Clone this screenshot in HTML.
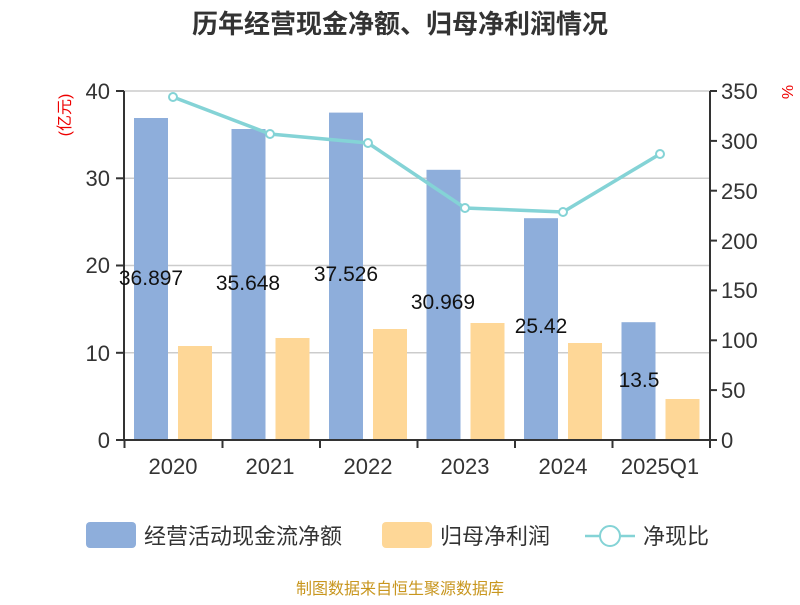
<!DOCTYPE html>
<html><head><meta charset="utf-8"><style>body{margin:0;background:#fff}</style></head><body>
<svg width="800" height="600" xmlns="http://www.w3.org/2000/svg" font-family="'Liberation Sans','Noto Sans CJK SC',sans-serif">
<text x="400" y="33" text-anchor="middle" font-size="26" font-weight="bold" fill="#333">历年经营现金净额、归母净利润情况</text>
<g stroke="#ccc" stroke-width="1.5">
<line x1="124" y1="91" x2="710" y2="91"/><line x1="124" y1="178.3" x2="710" y2="178.3"/><line x1="124" y1="265.5" x2="710" y2="265.5"/><line x1="124" y1="352.8" x2="710" y2="352.8"/>
</g>
<g fill="#8eaedb">
<rect x="134" y="118" width="34" height="322"/><rect x="231.5" y="129" width="34" height="311"/><rect x="329" y="112.6" width="34" height="327.4"/><rect x="426.5" y="169.8" width="34" height="270.2"/><rect x="524" y="218.2" width="34" height="221.8"/><rect x="621.5" y="322.2" width="34" height="117.8"/>
</g>
<g fill="#fed797">
<rect x="178" y="346" width="34" height="94"/><rect x="275.5" y="338" width="34" height="102"/><rect x="373" y="329" width="34" height="111"/><rect x="470.5" y="323" width="34" height="117"/><rect x="568" y="343" width="34" height="97"/><rect x="665.5" y="399" width="34" height="41"/>
</g>
<g stroke="#333" stroke-width="2" fill="none">
<line x1="124" y1="91" x2="124" y2="441"/><line x1="124" y1="440" x2="710" y2="440"/><line x1="710" y1="91" x2="710" y2="441"/>
<line x1="116" y1="91" x2="124" y2="91"/><line x1="116" y1="178.3" x2="124" y2="178.3"/><line x1="116" y1="265.5" x2="124" y2="265.5"/><line x1="116" y1="352.8" x2="124" y2="352.8"/><line x1="116" y1="440" x2="124" y2="440"/>
<line x1="124.5" y1="440" x2="124.5" y2="448"/><line x1="222.5" y1="440" x2="222.5" y2="448"/><line x1="320" y1="440" x2="320" y2="448"/><line x1="417.5" y1="440" x2="417.5" y2="448"/><line x1="515" y1="440" x2="515" y2="448"/><line x1="612.5" y1="440" x2="612.5" y2="448"/><line x1="710" y1="440" x2="710" y2="448"/>
<line x1="710" y1="91" x2="717" y2="91"/><line x1="710" y1="140.9" x2="717" y2="140.9"/><line x1="710" y1="190.7" x2="717" y2="190.7"/><line x1="710" y1="240.6" x2="717" y2="240.6"/><line x1="710" y1="290.4" x2="717" y2="290.4"/><line x1="710" y1="340.3" x2="717" y2="340.3"/><line x1="710" y1="390.1" x2="717" y2="390.1"/><line x1="710" y1="440" x2="717" y2="440"/>
</g>
<g font-size="22" fill="#333" text-anchor="end">
<text x="110" y="99">40</text><text x="110" y="186">30</text><text x="110" y="273">20</text><text x="110" y="361">10</text><text x="110" y="448">0</text>
</g>
<g font-size="22" fill="#333" text-anchor="start">
<text x="721" y="99">350</text><text x="721" y="149">300</text><text x="721" y="199">250</text><text x="721" y="249">200</text><text x="721" y="298">150</text><text x="721" y="348">100</text><text x="721" y="398">50</text><text x="721" y="448">0</text>
</g>
<text transform="translate(70,115) rotate(-90)" font-size="16" fill="#e00" text-anchor="middle">(亿元)</text>
<text transform="translate(782,92) rotate(90)" font-size="16" fill="#e00" text-anchor="middle">%</text>
<g font-size="22" fill="#333" text-anchor="middle">
<text x="173" y="474">2020</text><text x="270" y="474">2021</text><text x="368" y="474">2022</text><text x="465" y="474">2023</text><text x="563" y="474">2024</text><text x="660" y="474">2025Q1</text>
</g>
<g font-size="21" fill="#111" text-anchor="middle">
<text x="151" y="285">36.897</text><text x="248" y="290">35.648</text><text x="346" y="281">37.526</text><text x="443" y="309">30.969</text><text x="541" y="333">25.42</text><text x="639" y="387">13.5</text>
</g>
<polyline points="173,97 270,134 368,143 465,208 563,212 660,154" fill="none" stroke="#84d3d6" stroke-width="3.5"/>
<g fill="#fff" stroke="#84d3d6" stroke-width="2">
<circle cx="173" cy="97" r="4"/><circle cx="270" cy="134" r="4"/><circle cx="368" cy="143" r="4"/><circle cx="465" cy="208" r="4"/><circle cx="563" cy="212" r="4"/><circle cx="660" cy="154" r="4"/>
</g>
<rect x="86" y="522" width="50" height="26" rx="4" fill="#8eaedb"/>
<text x="144" y="544" font-size="22" fill="#333">经营活动现金流净额</text>
<rect x="382" y="522" width="50" height="26" rx="4" fill="#fed797"/>
<text x="440" y="544" font-size="22" fill="#333">归母净利润</text>
<line x1="585" y1="536" x2="635" y2="536" stroke="#84d3d6" stroke-width="2.5"/>
<circle cx="610" cy="536" r="10" fill="#fff" stroke="#84d3d6" stroke-width="2"/>
<text x="643" y="544" font-size="22" fill="#333">净现比</text>
<text x="400" y="594" font-size="16" fill="#c8961e" text-anchor="middle">制图数据来自恒生聚源数据库</text>
</svg>
</body></html>
